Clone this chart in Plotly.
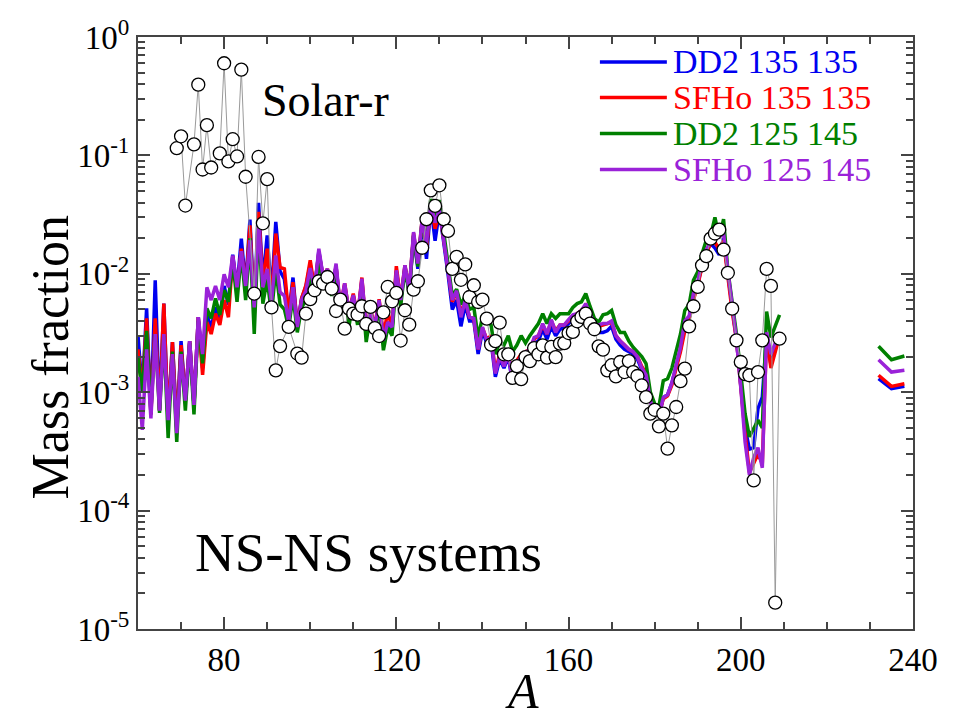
import plotly.graph_objects as go

# ---------------- data ----------------
A_main = list(range(60, 210))
A_act = [232, 235, 238]

dd2_135_135 = [
    3.0e-3, 1.0e-3, 5.1e-3, 6.5e-4, 8.8e-3, 7.0e-4, 5.6e-3, 5.5e-4, 2.65e-3, 5.0e-4,
    2.7e-3, 8.5e-4, 2.7e-3, 7.8e-4, 4.3e-3, 1.6e-3, 4.5e-3, 3.5e-3, 5.2e-3, 4.2e-3,
    7.9e-3, 5.5e-3, 1.45e-2, 7.5e-3, 1.98e-2, 7.8e-3, 2.87e-2, 4.8e-3, 3.97e-2, 8.5e-3,
    2.11e-2, 6.5e-3, 2.74e-2, 1.05e-2, 9.0e-3, 4.5e-3, 9.3e-3, 3.6e-3, 6.2e-3, 7.8e-3,
    1.2e-2, 7.3e-3, 1.55e-2, 9.4e-3, 1.05e-2, 7.0e-3, 1.15e-2, 5.0e-3, 8.0e-3, 4.6e-3,
    6.5e-3, 4.2e-3, 8.8e-3, 3.3e-3, 4.8e-3, 3.4e-3, 5.8e-3, 2.7e-3, 3.9e-3, 3.4e-3,
    1.05e-2, 5.8e-3, 1.15e-2, 7.0e-3, 2.1e-2, 1.1e-2, 2.8e-2, 1.34e-2, 3.8e-2, 1.9e-2,
    3.4e-2, 1.9e-2, 1.0e-2, 5.0e-3, 6.0e-3, 3.6e-3, 5.5e-3, 4.0e-3, 4.0e-3, 2.1e-3,
    3.3e-3, 2.6e-3, 2.7e-3, 1.35e-3, 1.9e-3, 1.6e-3, 2.0e-3, 1.2e-3, 1.6e-3, 1.9e-3,
    2.0e-3, 2.1e-3, 2.6e-3, 2.7e-3, 3.4e-3, 2.8e-3, 3.6e-3, 3.0e-3, 3.4e-3, 3.5e-3,
    3.8e-3, 4.2e-3, 4.4e-3, 4.6e-3, 5.2e-3, 4.2e-3, 3.4e-3, 3.2e-3, 3.2e-3, 3.3e-3,
    3.6e-3, 2.8e-3, 2.5e-3, 2.3e-3, 2.2e-3, 2.1e-3, 1.9e-3, 1.55e-3, 1.35e-3, 8.5e-4,
    6.6e-4, 6.4e-4, 9.0e-4, 9.5e-4, 1.2e-3, 1.65e-3, 2.3e-3, 3.8e-3, 4.2e-3, 6.5e-3,
    8.2e-3, 1.2e-2, 1.55e-2, 1.8e-2, 1.65e-2, 1.45e-2, 2.0e-2, 1.0e-2, 5.0e-3, 2.8e-3,
    1.15e-3, 5.0e-4, 3.3e-4, 3.4e-4, 7.3e-4, 9.1e-4, 3.0e-3, 1.7e-3, 2.3e-3, 3.0e-3,
]
sfho_135_135 = [
    2.3e-3, 1.0e-3, 4.2e-3, 6.5e-4, 4.2e-3, 7.0e-4, 5.6e-3, 5.5e-4, 2.65e-3, 5.0e-4,
    2.5e-3, 8.5e-4, 2.7e-3, 7.8e-4, 4.3e-3, 1.4e-3, 3.9e-3, 3.1e-3, 4.6e-3, 3.7e-3,
    6.0e-3, 4.3e-3, 1.4e-2, 7.0e-3, 1.63e-2, 7.5e-3, 2.57e-2, 4.5e-3, 3.33e-2, 8.0e-3,
    1.63e-2, 6.0e-3, 2.19e-2, 1.13e-2, 1.1e-2, 4.5e-3, 8.5e-3, 3.6e-3, 6.2e-3, 8.0e-3,
    1.3e-2, 7.5e-3, 1.5e-2, 9.4e-3, 1.1e-2, 7.3e-3, 1.15e-2, 5.2e-3, 8.3e-3, 4.8e-3,
    6.8e-3, 4.3e-3, 9.3e-3, 3.4e-3, 5.0e-3, 3.6e-3, 6.1e-3, 3.0e-3, 4.8e-3, 3.5e-3,
    1.16e-2, 6.0e-3, 1.18e-2, 7.3e-3, 2.2e-2, 1.2e-2, 2.9e-2, 1.6e-2, 3.9e-2, 2.4e-2,
    3.5e-2, 2.0e-2, 1.1e-2, 5.8e-3, 7.0e-3, 4.6e-3, 6.0e-3, 4.3e-3, 4.2e-3, 2.3e-3,
    3.5e-3, 2.8e-3, 3.0e-3, 1.5e-3, 2.1e-3, 1.8e-3, 2.1e-3, 1.35e-3, 1.85e-3, 2.1e-3,
    2.2e-3, 2.3e-3, 2.8e-3, 3.0e-3, 3.7e-3, 3.1e-3, 4.0e-3, 3.3e-3, 3.7e-3, 3.7e-3,
    4.0e-3, 4.4e-3, 4.6e-3, 4.9e-3, 5.4e-3, 4.5e-3, 3.8e-3, 3.6e-3, 3.7e-3, 3.8e-3,
    3.9e-3, 3.0e-3, 2.7e-3, 2.5e-3, 2.3e-3, 2.2e-3, 2.0e-3, 1.65e-3, 1.45e-3, 8.5e-4,
    6.8e-4, 6.5e-4, 8.8e-4, 9.3e-4, 1.15e-3, 1.6e-3, 2.2e-3, 3.3e-3, 4.2e-3, 6.0e-3,
    8.0e-3, 1.15e-2, 1.5e-2, 1.8e-2, 1.85e-2, 1.6e-2, 1.9e-2, 9.5e-3, 4.8e-3, 2.8e-3,
    1.1e-3, 4.5e-4, 2.1e-4, 2.5e-4, 3.0e-4, 2.5e-4, 3.0e-3, 1.6e-3, 2.2e-3, 3.0e-3,
]
dd2_125_145 = [
    1.95e-3, 1.0e-3, 3.3e-3, 7.0e-4, 3.1e-3, 6.7e-4, 3.0e-3, 4.1e-4, 2.2e-3, 3.8e-4,
    2.2e-3, 7.0e-4, 2.6e-3, 6.5e-4, 4.0e-3, 1.75e-3, 5.1e-3, 4.2e-3, 6.2e-3, 4.5e-3,
    7.3e-3, 5.8e-3, 1.3e-2, 5.8e-3, 1.5e-2, 6.0e-3, 2.0e-2, 3.1e-3, 2.6e-2, 5.6e-3,
    9.0e-3, 4.6e-3, 1.1e-2, 5.5e-3, 5.0e-3, 3.5e-3, 6.5e-3, 3.2e-3, 5.2e-3, 6.0e-3,
    9.5e-3, 6.0e-3, 1.3e-2, 8.0e-3, 9.5e-3, 6.5e-3, 1.0e-2, 4.5e-3, 7.5e-3, 3.6e-3,
    6.0e-3, 3.7e-3, 8.0e-3, 2.65e-3, 4.5e-3, 3.0e-3, 5.5e-3, 2.26e-3, 3.5e-3, 3.0e-3,
    9.5e-3, 5.3e-3, 1.1e-2, 6.8e-3, 2.1e-2, 1.15e-2, 2.8e-2, 1.8e-2, 4.3e-2, 2.8e-2,
    4.2e-2, 2.3e-2, 1.2e-2, 6.5e-3, 7.4e-3, 5.5e-3, 6.5e-3, 5.0e-3, 5.2e-3, 2.9e-3,
    4.3e-3, 4.0e-3, 3.7e-3, 2.1e-3, 2.65e-3, 2.5e-3, 3.0e-3, 2.2e-3, 2.5e-3, 3.0e-3,
    2.6e-3, 3.0e-3, 3.4e-3, 3.8e-3, 4.6e-3, 3.8e-3, 4.6e-3, 4.2e-3, 4.6e-3, 4.6e-3,
    4.6e-3, 5.2e-3, 5.6e-3, 5.8e-3, 6.8e-3, 5.3e-3, 4.2e-3, 3.9e-3, 4.5e-3, 4.6e-3,
    4.9e-3, 3.7e-3, 3.2e-3, 3.2e-3, 2.7e-3, 2.4e-3, 2.2e-3, 2.0e-3, 1.74e-3, 1.0e-3,
    8.0e-4, 7.6e-4, 1.25e-3, 1.3e-3, 1.6e-3, 2.2e-3, 3.1e-3, 4.9e-3, 5.5e-3, 8.8e-3,
    1.04e-2, 1.48e-2, 1.92e-2, 2.1e-2, 3.0e-2, 2.0e-2, 2.9e-2, 1.07e-2, 6.0e-3, 3.1e-3,
    1.44e-3, 6.6e-4, 4.2e-4, 4.9e-4, 5.8e-4, 5.0e-4, 4.8e-3, 2.9e-3, 3.6e-3, 4.5e-3,
]
sfho_125_145 = [
    1.35e-3, 4.8e-4, 2.3e-3, 6.0e-4, 3.1e-3, 7.0e-4, 3.1e-3, 5.8e-4, 2.1e-3, 4.5e-4,
    2.1e-3, 8.5e-4, 2.7e-3, 7.8e-4, 4.3e-3, 2.1e-3, 7.7e-3, 6.0e-3, 7.9e-3, 6.0e-3,
    9.9e-3, 7.7e-3, 1.43e-2, 7.7e-3, 1.55e-2, 7.9e-3, 1.92e-2, 5.2e-3, 2.74e-2, 7.7e-3,
    1.1e-2, 5.8e-3, 1.43e-2, 7.0e-3, 6.5e-3, 3.9e-3, 7.7e-3, 3.55e-3, 6.0e-3, 7.2e-3,
    1.12e-2, 7.3e-3, 1.63e-2, 9.4e-3, 1.1e-2, 7.3e-3, 1.22e-2, 5.2e-3, 8.3e-3, 4.8e-3,
    6.6e-3, 4.3e-3, 9.1e-3, 3.55e-3, 4.9e-3, 3.55e-3, 6.0e-3, 2.74e-3, 3.9e-3, 3.55e-3,
    1.07e-2, 6.0e-3, 1.18e-2, 7.3e-3, 2.25e-2, 1.22e-2, 2.9e-2, 1.8e-2, 3.9e-2, 2.7e-2,
    3.5e-2, 2.0e-2, 1.1e-2, 6.0e-3, 7.2e-3, 4.3e-3, 6.0e-3, 4.3e-3, 4.2e-3, 2.3e-3,
    3.55e-3, 2.75e-3, 2.9e-3, 1.44e-3, 2.0e-3, 1.65e-3, 2.07e-3, 1.26e-3, 1.74e-3, 2.0e-3,
    2.2e-3, 2.26e-3, 2.9e-3, 3.0e-3, 3.8e-3, 3.1e-3, 4.1e-3, 3.2e-3, 3.7e-3, 3.7e-3,
    4.1e-3, 4.5e-3, 4.6e-3, 4.9e-3, 5.6e-3, 4.5e-3, 3.8e-3, 3.7e-3, 3.8e-3, 3.8e-3,
    4.0e-3, 3.0e-3, 2.7e-3, 2.5e-3, 2.3e-3, 2.2e-3, 2.0e-3, 1.6e-3, 1.4e-3, 8.5e-4,
    6.6e-4, 6.3e-4, 9.0e-4, 9.5e-4, 1.2e-3, 1.7e-3, 2.4e-3, 4.0e-3, 4.4e-3, 6.8e-3,
    8.5e-3, 1.26e-2, 1.6e-2, 1.86e-2, 2.3e-2, 2.05e-2, 2.2e-2, 1.05e-2, 5.2e-3, 2.8e-3,
    1.1e-3, 3.8e-4, 2.0e-4, 2.8e-4, 3.4e-4, 2.3e-4, 3.2e-3, 2.1e-3, 2.6e-3, 3.2e-3,
]

dd2_135_135_act = [1.3e-3, 1.07e-3, 1.12e-3]
sfho_135_135_act = [1.39e-3, 1.12e-3, 1.18e-3]
dd2_125_145_act = [2.44e-3, 1.88e-3, 2.02e-3]
sfho_125_145_act = [1.88e-3, 1.48e-3, 1.53e-3]

solar_A = [
    69, 70, 71, 73, 74, 75, 76, 77, 79, 80, 81, 82, 83, 84, 85, 87, 88, 89, 90, 91,
    92, 93, 95, 97, 98, 99, 100, 101, 102, 103, 104, 105, 106, 107, 108, 109, 110, 111, 112, 113,
    114, 115, 116, 117, 118, 119, 120, 121, 122, 123, 124, 125, 126, 127, 128, 129, 130, 131, 132, 133,
    134, 135, 136, 137, 138, 139, 140, 141, 142, 143, 144, 145, 146, 147, 148, 149, 150, 151, 152, 153,
    154, 155, 156, 157, 158, 159, 160, 161, 162, 163, 164, 165, 166, 167, 168, 169, 170, 171, 172, 173,
    174, 175, 176, 177, 178, 179, 180, 181, 182, 183, 184, 185, 186, 187, 188, 189, 190, 191, 192, 193,
    194, 195, 196, 197, 198, 199, 200, 201, 202, 203, 204, 205, 206, 207, 208, 209,
]
solar_X = [
    0.115, 0.145, 0.0377, 0.124, 0.396, 0.076, 0.18, 0.079, 0.104, 0.60, 0.089, 0.137, 0.098, 0.53, 0.066, 0.0068, 0.097, 0.0267, 0.063, 0.0052,
    0.00153, 0.00245, 0.00356, 0.00212, 0.00196, 0.00461, 0.0061, 0.00726, 0.00865, 0.00827, 0.0094, 0.0075, 0.00485, 0.00605, 0.00344, 0.00508, 0.00461, 0.00452, 0.00532, 0.00377,
    0.00525, 0.00348, 0.00298, 0.00473, 0.00774, 0.00586, 0.00689, 0.00273, 0.00492, 0.00372, 0.00735, 0.00865, 0.0166, 0.0289, 0.0507, 0.0374, 0.0559, 0.0289, 0.023, 0.011,
    0.0139, 0.0089, 0.012, 0.00637, 0.008, 0.00578, 0.00605, 0.00418, 0.00252, 0.0027, 0.00387, 0.00209, 0.00209, 0.00132, 0.00166, 0.00129, 0.00198, 0.00183, 0.00236, 0.00209,
    0.00249, 0.00196, 0.00241, 0.00198, 0.00257, 0.0026, 0.00316, 0.00323, 0.00397, 0.00432, 0.00461, 0.0038, 0.0034, 0.00244, 0.00229, 0.00153, 0.00169, 0.00136, 0.0018, 0.00148,
    0.00183, 0.00148, 0.00137, 0.00114, 0.00091, 0.00066, 0.00071, 0.000515, 0.00066, 0.000334, 0.000525, 0.00075, 0.00124, 0.00158, 0.0036, 0.00532, 0.00774, 0.0118, 0.0141, 0.0198,
    0.0219, 0.0236, 0.016, 0.0102, 0.00508, 0.00274, 0.0018, 0.00142, 0.00139, 0.00018, 0.00148, 0.00274, 0.011, 0.0079, 1.67e-5, 0.00283,
]

series_names = ["DD2 135 135", "SFHo 135 135", "DD2 125 145", "SFHo 125 145"]
series_colors = ["#0000F0", "#FF0000", "#008000", "#9A22D8"]

x_ticks = [80, 120, 160, 200, 240]
y_ticks = [1e-5, 1e-4, 1e-3, 1e-2, 1e-1, 1]
y_ticktext = ["10<sup>-5</sup>", "10<sup>-4</sup>", "10<sup>-3</sup>",
              "10<sup>-2</sup>", "10<sup>-1</sup>", "10<sup>0</sup>"]

# ---------------- figure ----------------
FONT = "Liberation Serif, Times New Roman, serif"
fig = go.Figure()

main_series = [dd2_135_135, sfho_135_135, dd2_125_145, sfho_125_145]
act_series = [dd2_135_135_act, sfho_135_135_act, dd2_125_145_act, sfho_125_145_act]
for name, col, ym, ya in zip(series_names, series_colors, main_series, act_series):
    fig.add_trace(go.Scatter(
        x=A_main + [None] + A_act, y=ym + [None] + ya,
        mode="lines", name=name, line=dict(color=col, width=3.5),
        connectgaps=False, showlegend=False))

fig.add_trace(go.Scatter(
    x=solar_A, y=solar_X, mode="lines+markers", name="Solar-r",
    line=dict(color="#9a9a9a", width=1),
    marker=dict(symbol="circle", size=13, color="white",
                line=dict(color="black", width=1.3)),
    showlegend=False))

# manual legend (line sample + coloured label)
L = 137.8
W = 775.5
T = 36.7
H = 592.0
leg_rows_px = [61.7, 97.3, 133.3, 169.3]
for name, col, ypx in zip(series_names, series_colors, leg_rows_px):
    yp = 1 - (ypx - T) / H
    fig.add_shape(type="line", xref="paper", yref="paper",
                  x0=(600 - L) / W, x1=(667 - L) / W, y0=yp, y1=yp,
                  line=dict(color=col, width=3.5))
    fig.add_annotation(text=name, xref="paper", yref="paper",
                       x=(671 - L) / W, y=yp, xanchor="left", yanchor="middle",
                       showarrow=False, font=dict(family=FONT, size=34, color=col))

fig.add_annotation(text="Solar-r", xref="paper", yref="paper",
                   x=(260 - L) / W, y=1 - (100 - T) / H, xanchor="left", yanchor="middle",
                   showarrow=False, font=dict(family=FONT, size=46, color="black"))
fig.add_annotation(text="NS-NS systems", xref="paper", yref="paper",
                   x=(193 - L) / W, y=1 - (552 - T) / H, xanchor="left", yanchor="middle",
                   showarrow=False, font=dict(family=FONT, size=55, color="black"))
fig.add_annotation(text="Mass fraction", xref="paper", yref="paper",
                   x=0, xshift=-(L - 50), y=1 - (357 - T) / H, textangle=-90,
                   xanchor="center", yanchor="middle",
                   showarrow=False, font=dict(family=FONT, size=52, color="black"))
fig.add_annotation(text="<i>A</i>", xref="paper", yref="paper",
                   x=(522 - L) / W, y=0, yshift=-62, xanchor="center", yanchor="middle",
                   showarrow=False, font=dict(family=FONT, size=50, color="black"))

axis_common = dict(
    showline=True, linecolor="#444", linewidth=2, mirror="ticks",
    ticks="inside", ticklen=12, tickwidth=1.5, tickcolor="#444",
    showgrid=False, zeroline=False,
    tickfont=dict(family=FONT, size=33, color="black"),
)

fig.update_xaxes(range=[60, 240], tickmode="array", tickvals=x_ticks,
                 minor=dict(ticks="inside", ticklen=7, tickwidth=1.5, tickcolor="#444",
                            tickmode="array",
                            tickvals=[70, 90, 100, 110, 130, 140, 150, 170, 180, 190,
                                      210, 220, 230]),
                 **axis_common)

minor_y = [m * 10.0 ** e for e in range(-5, 0) for m in range(2, 10)]
fig.update_yaxes(type="log", range=[-5, 0], tickmode="array", tickvals=y_ticks,
                 ticktext=y_ticktext,
                 minor=dict(ticks="inside", ticklen=7, tickwidth=1.5, tickcolor="#444",
                            tickmode="array", tickvals=minor_y),
                 **axis_common)

fig.update_layout(
    width=956, height=720,
    margin=dict(l=138, r=43, t=37, b=91),
    paper_bgcolor="white", plot_bgcolor="white",
    font=dict(family=FONT, color="black"),
)

fig.write_html("out.html")
